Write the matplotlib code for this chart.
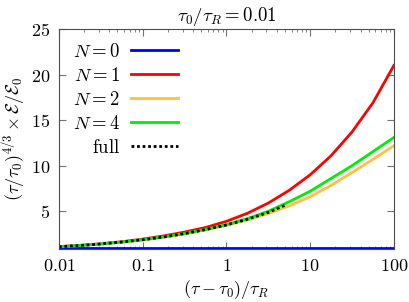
import matplotlib
matplotlib.use("Agg")
import matplotlib.pyplot as plt

# values, x is (tau - tau0)/tau_R on a log grid
x_pts = [0.01, 0.0178, 0.0316, 0.0562, 0.1, 0.178, 0.316, 0.562, 1,
         1.78, 3.16, 5.62, 10, 17.8, 31.6, 56.2, 100]
n0_vals = [1.0] * len(x_pts)
n1_vals = [1.12, 1.26, 1.44, 1.66, 1.95, 2.3, 2.72, 3.22, 3.9,
           4.78, 5.9, 7.3, 9.0, 11.1, 13.7, 16.9, 21.0]
n2_vals = [1.12, 1.25, 1.41, 1.62, 1.86, 2.15, 2.52, 2.95, 3.45,
           4.05, 4.75, 5.6, 6.6, 7.85, 9.25, 10.7, 12.2]
n4_vals = [1.12, 1.25, 1.42, 1.64, 1.89, 2.2, 2.57, 3.02, 3.55,
           4.2, 5.0, 6.05, 7.2, 8.6, 10.0, 11.55, 13.1]
full_x = [0.01, 0.0178, 0.0316, 0.0562, 0.1, 0.178, 0.316, 0.562, 1,
          1.78, 3.16, 5.0]
full_vals = [1.12, 1.25, 1.42, 1.63, 1.88, 2.18, 2.55, 2.99, 3.5,
             4.12, 4.88, 5.66]

plt.rcParams['font.family'] = 'serif'
plt.rcParams['mathtext.fontset'] = 'cm'
plt.rcParams['font.size'] = 13

fig = plt.figure(figsize=(4.09, 3.02), dpi=100)
ax = fig.add_axes([0.144, 0.175, 0.819, 0.729])

ax.plot(x_pts, n0_vals, color='#0000ff', lw=2, label=r'$N=0$')
ax.plot(x_pts, n1_vals, color='#ff0000', lw=2, label=r'$N=1$')
ax.plot(x_pts, n2_vals, color='#ffc040', lw=2, label=r'$N=2$')
ax.plot(x_pts, n4_vals, color='#00ee00', lw=2, label=r'$N=4$')
ax.plot(full_x, full_vals, color='black', lw=2, ls=(0, (1, 1)),
        label=r'$\mathrm{full}$')

ax.set_xscale('log')
ax.set_xlim(0.01, 100)
ax.set_ylim(0.85, 25)
ax.set_xticks([0.01, 0.1, 1, 10, 100])
ax.set_xticklabels([r'$0.01$', r'$0.1$', r'$1$', r'$10$', r'$100$'])
ax.set_yticks([5, 10, 15, 20, 25])
ax.set_yticklabels([r'$5$', r'$10$', r'$15$', r'$20$', r'$25$'])
ax.tick_params(which='both', direction='in', top=True, right=True, color='0.45')
ax.tick_params(which='major', length=5, pad=6)
ax.tick_params(which='minor', length=2.5)
for s in ax.spines.values():
    s.set_color('0.3')

ax.set_xlabel(r'$(\tau-\tau_0)/\tau_R$', labelpad=2)
ax.set_ylabel(r'$(\tau/\tau_0)^{4/3}\times\mathcal{E}/\mathcal{E}_0$')
ax.yaxis.set_label_coords(-0.092, 0.5)
ax.set_title(r'$\tau_0/\tau_R=0.01$', fontsize=13.5, pad=6)

ax.legend(loc='upper left', frameon=False, markerfirst=False, handlelength=2.5,
          labelspacing=0.32, borderaxespad=0.35, handletextpad=0.6,
          fontsize=13.5)

fig.savefig('out.png', dpi=100)
